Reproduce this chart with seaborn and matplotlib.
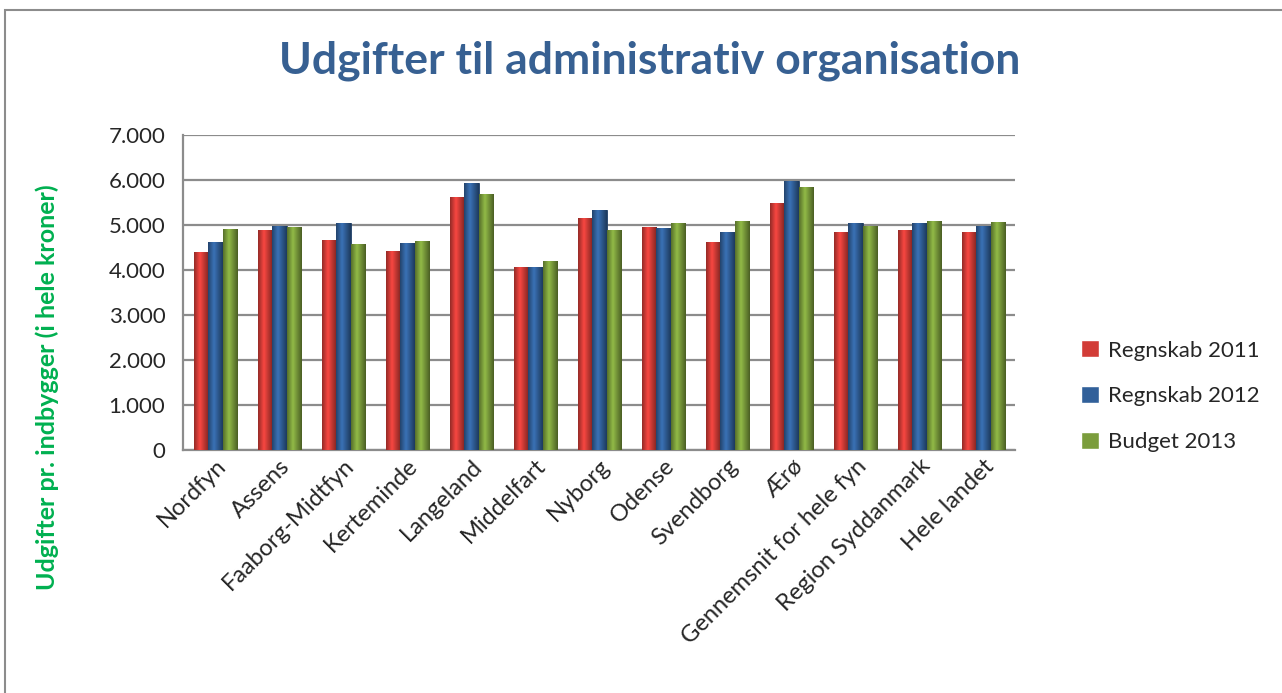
import numpy as np
import pandas as pd
import matplotlib.pyplot as plt
import seaborn as sns
from matplotlib.ticker import FuncFormatter
from matplotlib.patches import Rectangle
from matplotlib.colors import to_rgb

# Values (kr. pr. indbygger)
kommuner = ['Nordfyn', 'Assens', 'Faaborg-Midtfyn', 'Kerteminde', 'Langeland',
            'Middelfart', 'Nyborg', 'Odense', 'Svendborg', 'Ærø',
            'Gennemsnit for hele fyn', 'Region Syddanmark', 'Hele landet']
regnskab_2011 = [4400, 4880, 4660, 4420, 5620, 4070, 5150, 4950, 4610, 5480, 4830, 4880, 4840]
regnskab_2012 = [4620, 4970, 5030, 4600, 5930, 4070, 5320, 4930, 4840, 5970, 5030, 5030, 4970]
budget_2013 = [4900, 4940, 4570, 4640, 5690, 4200, 4880, 5040, 5080, 5840, 4970, 5080, 5060]

series = ['Regnskab 2011', 'Regnskab 2012', 'Budget 2013']
colors = ['#D23C37', '#31609A', '#7B9D3C']

df = pd.DataFrame({'Kommune': kommuner,
                   'Regnskab 2011': regnskab_2011,
                   'Regnskab 2012': regnskab_2012,
                   'Budget 2013': budget_2013})
long_df = df.melt(id_vars='Kommune', var_name='Serie', value_name='Udgift')

sns.set_style('white')
plt.rcParams['font.family'] = ['Lato', 'DejaVu Sans']

fig = plt.figure(figsize=(12.82, 6.93), dpi=100)
ax = fig.add_axes([0.143, 0.351, 0.649, 0.4545])

sns.barplot(data=long_df, x='Kommune', y='Udgift', hue='Serie', hue_order=series,
            palette=colors, width=0.68, saturation=1, ax=ax, legend=True)

# cylinder-like shading: horizontal gradient clipped to each bar
shade = np.concatenate([np.linspace(0.7, 1.18, 40), np.linspace(1.18, 0.6, 60)])
for patch in list(ax.patches):
    if patch.get_height() <= 0:
        continue
    base = np.array(to_rgb(patch.get_facecolor()))
    grad = np.clip(base[None, :] * shade[:, None], 0, 1)[None, :, :]
    x0, w, h = patch.get_x(), patch.get_width(), patch.get_height()
    im = ax.imshow(grad, extent=(x0, x0 + w, 0, h), aspect='auto', zorder=3,
                   interpolation='bilinear')
    im.set_clip_path(patch)
    patch.set_edgecolor(tuple(base * 0.65))
    patch.set_linewidth(0.6)
ax.set_aspect('auto')
ax.set_xlim(-0.5, len(kommuner) - 0.5)
ax.set_ylim(0, 7000)

ax.set_yticks(range(0, 7001, 1000))
ax.yaxis.set_major_formatter(FuncFormatter(lambda v, p: f'{v:,.0f}'.replace(',', '.')))
ax.grid(axis='y', color='#8c8c8c', linewidth=1.6)
ax.set_axisbelow(True)
for side in ['top', 'right']:
    ax.spines[side].set_visible(False)
ax.spines['left'].set_color('#8c8c8c')
ax.spines['left'].set_linewidth(1.6)
ax.spines['bottom'].set_color('#8c8c8c')
ax.spines['bottom'].set_linewidth(1.6)
ax.tick_params(axis='y', length=6, color='#8c8c8c', width=1.4, labelsize=16, pad=7)
ax.tick_params(axis='x', length=0, labelsize=17, pad=4)
ax.set_xticks(range(len(kommuner)))
ax.set_xticklabels(kommuner, rotation=45, ha='right', rotation_mode='anchor')

ax.set_xlabel('')
ax.set_ylabel('Udgifter pr. indbygger (i hele kroner)', color='#00B050',
              fontsize=18, fontweight='bold')
ax.yaxis.set_label_coords(-0.15, 0.2)

fig.suptitle('Udgifter til administrativ organisation', x=0.507, y=0.913, va='center',
             fontsize=32, fontweight='bold', color='#376092')

leg = ax.legend(loc='center left', bbox_to_anchor=(1.055, 0.17), frameon=False,
                fontsize=16, handlelength=0.8, handleheight=0.8,
                handletextpad=0.4, labelspacing=1.15)

fig.patches.append(Rectangle((0.004, -0.05), 1.2, 1.036, transform=fig.transFigure,
                             fill=False, edgecolor='#8c8c8c', linewidth=1.5))

plt.savefig('out.png', dpi=100)
